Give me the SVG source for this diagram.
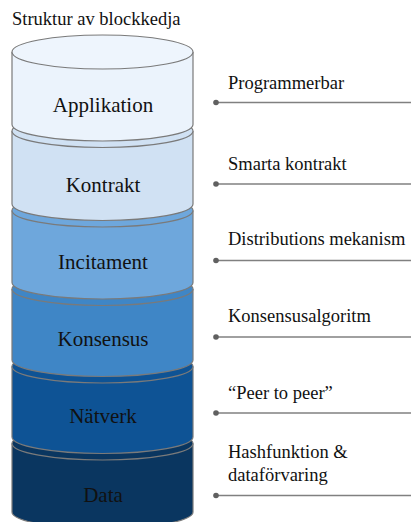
<svg xmlns="http://www.w3.org/2000/svg" width="411" height="522" viewBox="0 0 411 522" font-family="'Liberation Serif', 'Times New Roman', serif">
<style>
text{font-family:'Liberation Serif','Times New Roman',serif;fill:#111}
.title{font-size:18.5px}
.lbl{font-size:21px;text-anchor:middle}
.note{font-size:18.5px}
.edge{fill:none;stroke:#7a7a7a;stroke-width:1.2}
.conn line{stroke:#808080;stroke-width:1.5}
.conn circle{fill:#606060}
</style>
<rect width="411" height="522" fill="#fff"/>
<text class="title" x="12" y="25">Struktur av blockkedja</text>

<g id="layer-data">
<path d="M12,443.5 L12,512 A90.5,16.5 0 0 0 193,512 L193,443.5 Z" fill="#0a3660"/>
<path class="edge" d="M12,443.5 L12,512 A90.5,16.5 0 0 0 193,512 L193,443.5"/>
<ellipse class="edge" cx="102.5" cy="443.5" rx="90.5" ry="16.5" style="fill:#0a3660"/>
</g>
<g id="layer-natverk">
<path d="M12,366.5 L12,437 A90.5,16.5 0 0 0 193,437 L193,366.5 Z" fill="#0e5395"/>
<path class="edge" d="M12,366.5 L12,437 A90.5,16.5 0 0 0 193,437 L193,366.5"/>
<ellipse class="edge" cx="102.5" cy="366.5" rx="90.5" ry="16.5" style="fill:#0e5395"/>
</g>
<g id="layer-konsensus">
<path d="M12,289 L12,360 A90.5,16.5 0 0 0 193,360 L193,289 Z" fill="#3f86c6"/>
<path class="edge" d="M12,289 L12,360 A90.5,16.5 0 0 0 193,360 L193,289"/>
<ellipse class="edge" cx="102.5" cy="289" rx="90.5" ry="16.5" style="fill:#3f86c6"/>
</g>
<g id="layer-incitament">
<path d="M12,210.5 L12,282.5 A90.5,16.5 0 0 0 193,282.5 L193,210.5 Z" fill="#6ea7dc"/>
<path class="edge" d="M12,210.5 L12,282.5 A90.5,16.5 0 0 0 193,282.5 L193,210.5"/>
<ellipse class="edge" cx="102.5" cy="210.5" rx="90.5" ry="16.5" style="fill:#6ea7dc"/>
</g>
<g id="layer-kontrakt">
<path d="M12,131 L12,204 A90.5,16.5 0 0 0 193,204 L193,131 Z" fill="#d0e1f3"/>
<path class="edge" d="M12,131 L12,204 A90.5,16.5 0 0 0 193,204 L193,131"/>
<ellipse class="edge" cx="102.5" cy="131" rx="90.5" ry="16.5" style="fill:#d0e1f3"/>
</g>
<g id="layer-applikation">
<path d="M12,52 L12,124.5 A90.5,16.5 0 0 0 193,124.5 L193,52 Z" fill="#ebf3fc"/>
<path class="edge" d="M12,52 L12,124.5 A90.5,16.5 0 0 0 193,124.5 L193,52"/>
<ellipse class="edge" cx="102.5" cy="52" rx="90.5" ry="17" style="fill:#eef5fd"/>
</g>

<g id="layer-labels">
<text class="lbl" x="103" y="112">Applikation</text>
<text class="lbl" x="103" y="192">Kontrakt</text>
<text class="lbl" x="103" y="268.5">Incitament</text>
<text class="lbl" x="103" y="345.5">Konsensus</text>
<text class="lbl" x="103" y="423">Nätverk</text>
<text class="lbl" x="103" y="502">Data</text>
</g>

<g id="notes">
<text class="note" x="228" y="88.5">Programmerbar</text>
<text class="note" x="228" y="170">Smarta kontrakt</text>
<text class="note" x="228" y="245">Distributions mekanism</text>
<text class="note" x="228" y="322">Konsensusalgoritm</text>
<text class="note" x="228" y="398.5">“Peer to peer”</text>
<text class="note" x="228" y="457.5">Hashfunktion &amp;</text>
<text class="note" x="228" y="480.5">dataförvaring</text>
</g>

<g id="connectors" class="conn">
<line x1="216" y1="102.5" x2="411" y2="102.5"/><circle cx="216" cy="102.5" r="2.8"/>
<line x1="216" y1="184" x2="411" y2="184"/><circle cx="216" cy="184" r="2.8"/>
<line x1="216" y1="260.5" x2="411" y2="260.5"/><circle cx="216" cy="260.5" r="2.8"/>
<line x1="216" y1="337" x2="411" y2="337"/><circle cx="216" cy="337" r="2.8"/>
<line x1="216" y1="413" x2="411" y2="413"/><circle cx="216" cy="413" r="2.8"/>
<line x1="216" y1="495.5" x2="411" y2="495.5"/><circle cx="216" cy="495.5" r="2.8"/>
</g>
</svg>
